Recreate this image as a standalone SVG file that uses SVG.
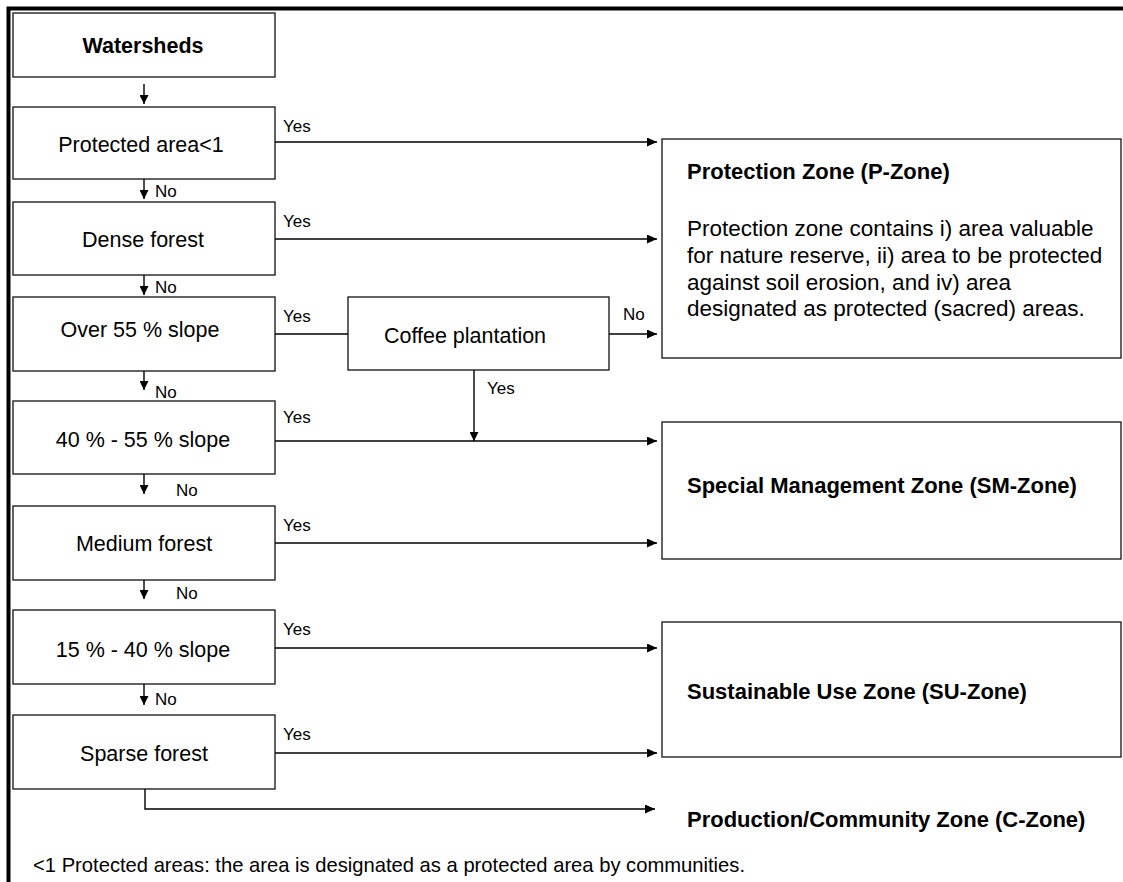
<svg xmlns="http://www.w3.org/2000/svg" width="1123" height="882" viewBox="0 0 1123 882">
<defs>
<style>
.box{fill:#fff;stroke:#222;stroke-width:1.4}
.t{font-family:"Liberation Sans",Arial,sans-serif;fill:#000}
.lbl{font-size:21.5px;text-anchor:middle}
.b{font-weight:bold}
.yn{font-size:17px}
.zt{font-size:22px;font-weight:bold}
.body{font-size:22.5px}
.ln{fill:none;stroke:#000;stroke-width:1.4}
</style>
<marker id="ah" markerWidth="10" markerHeight="9" refX="10" refY="4.5" orient="auto" markerUnits="userSpaceOnUse">
<path d="M0,0 L10,4.5 L0,9 Z" fill="#000"/>
</marker>
<marker id="ad" markerWidth="10" markerHeight="9" refX="9" refY="4.5" orient="auto" markerUnits="userSpaceOnUse">
<path d="M0,0 L9,4.5 L0,9 Z" fill="#000"/>
</marker>
</defs>
<rect width="1123" height="882" fill="#fff"/>
<path d="M8.5,882 V8.5 H1123" fill="none" stroke="#000" stroke-width="4"/>

<g id="watersheds"><rect class="box" x="13" y="13" width="262" height="64"/><text class="t lbl b" x="143" y="53">Watersheds</text></g>
<g id="protected"><rect class="box" x="13" y="107" width="262" height="72"/><text class="t lbl" x="141" y="152">Protected area&lt;1</text></g>
<g id="dense"><rect class="box" x="13" y="202" width="262" height="73"/><text class="t lbl" x="143" y="247">Dense forest</text></g>
<g id="over55"><rect class="box" x="13" y="297" width="262" height="74"/><text class="t lbl" x="140" y="337">Over 55 % slope</text></g>
<g id="s40-55"><rect class="box" x="13" y="401" width="262" height="73"/><text class="t lbl" x="143" y="447">40 % - 55 % slope</text></g>
<g id="medium"><rect class="box" x="13" y="506" width="262" height="74"/><text class="t lbl" x="144" y="551">Medium forest</text></g>
<g id="s15-40"><rect class="box" x="13" y="610" width="262" height="74"/><text class="t lbl" x="143" y="657">15 % - 40 % slope</text></g>
<g id="sparse"><rect class="box" x="13" y="715" width="262" height="74"/><text class="t lbl" x="144" y="761">Sparse forest</text></g>
<g id="coffee"><rect class="box" x="348" y="297" width="261" height="73"/><text class="t lbl" x="465" y="343">Coffee plantation</text></g>

<g id="pzone"><rect class="box" x="662" y="139" width="459" height="219"/>
<text class="t zt" x="687" y="179">Protection Zone (P-Zone)</text>
<text class="t body" x="687" y="236">Protection zone contains i) area valuable</text>
<text class="t body" x="687" y="263">for nature reserve, ii) area to be protected</text>
<text class="t body" x="687" y="290">against soil erosion, and iv) area</text>
<text class="t body" x="687" y="316">designated as protected (sacred) areas.</text>
</g>
<g id="smzone"><rect class="box" x="662" y="422" width="459" height="137"/><text class="t zt" x="687" y="493">Special Management Zone (SM-Zone)</text></g>
<g id="suzone"><rect class="box" x="662" y="622" width="459" height="135"/><text class="t zt" x="687" y="699">Sustainable Use Zone (SU-Zone)</text></g>
<g id="czone"><text class="t zt" x="687" y="827">Production/Community Zone (C-Zone)</text></g>

<g id="connectors">
<line class="ln" x1="144" y1="84" x2="144" y2="104" marker-end="url(#ad)"/>
<line class="ln" x1="144" y1="179" x2="144" y2="199" marker-end="url(#ad)"/>
<line class="ln" x1="144" y1="275" x2="144" y2="295" marker-end="url(#ad)"/>
<line class="ln" x1="144" y1="371" x2="144" y2="390" marker-end="url(#ad)"/>
<line class="ln" x1="144" y1="474" x2="144" y2="494" marker-end="url(#ad)"/>
<line class="ln" x1="144" y1="580" x2="144" y2="599" marker-end="url(#ad)"/>
<line class="ln" x1="144" y1="684" x2="144" y2="705" marker-end="url(#ad)"/>

<line class="ln" x1="275" y1="142" x2="657" y2="142" marker-end="url(#ah)"/>
<line class="ln" x1="275" y1="239" x2="657" y2="239" marker-end="url(#ah)"/>
<line class="ln" x1="275" y1="334" x2="348" y2="334"/>
<line class="ln" x1="609" y1="334" x2="657" y2="334" marker-end="url(#ah)"/>
<line class="ln" x1="474" y1="370" x2="474" y2="441" marker-end="url(#ad)"/>
<line class="ln" x1="275" y1="441" x2="657" y2="441" marker-end="url(#ah)"/>
<line class="ln" x1="275" y1="543" x2="657" y2="543" marker-end="url(#ah)"/>
<line class="ln" x1="275" y1="648" x2="657" y2="648" marker-end="url(#ah)"/>
<line class="ln" x1="275" y1="753" x2="657" y2="753" marker-end="url(#ah)"/>
<polyline class="ln" points="145,789 145,809 655,809" marker-end="url(#ah)"/>

<text class="t yn" x="155" y="197">No</text>
<text class="t yn" x="155" y="293">No</text>
<text class="t yn" x="155" y="398">No</text>
<text class="t yn" x="176" y="496">No</text>
<text class="t yn" x="176" y="599">No</text>
<text class="t yn" x="155" y="705">No</text>

<text class="t yn" x="283" y="132">Yes</text>
<text class="t yn" x="283" y="227">Yes</text>
<text class="t yn" x="283" y="322">Yes</text>
<text class="t yn" x="283" y="423">Yes</text>
<text class="t yn" x="283" y="531">Yes</text>
<text class="t yn" x="283" y="635">Yes</text>
<text class="t yn" x="283" y="740">Yes</text>
<text class="t yn" x="487" y="394">Yes</text>
<text class="t yn" x="623" y="320">No</text>
</g>

<text class="t" x="33" y="872" font-size="20.2">&lt;1 Protected areas: the area is designated as a protected area by communities.</text>
</svg>
